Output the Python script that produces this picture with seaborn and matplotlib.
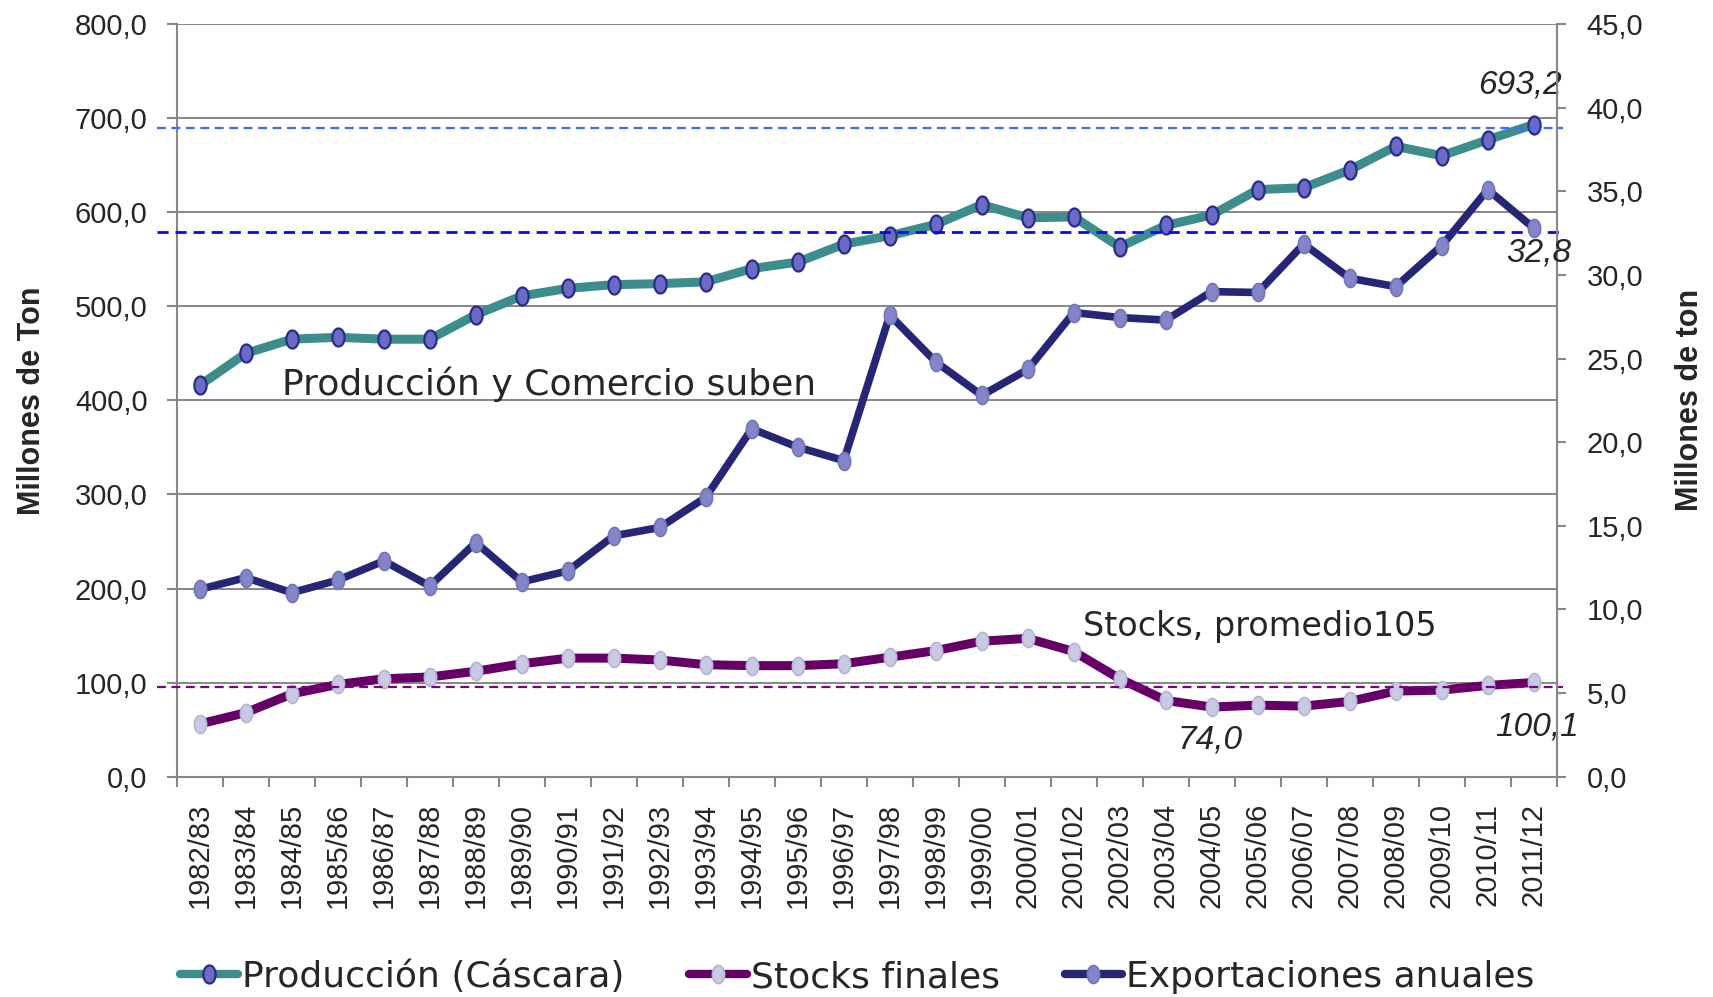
import numpy as np
import matplotlib
matplotlib.use("Agg")
import matplotlib.pyplot as plt
import matplotlib.transforms as mtransforms
from matplotlib.lines import Line2D
from matplotlib.ticker import FuncFormatter, FixedLocator
import seaborn as sns

# campañas arroceras
campanas = ['1982/83', '1983/84', '1984/85', '1985/86', '1986/87', '1987/88',
            '1988/89', '1989/90', '1990/91', '1991/92', '1992/93', '1993/94',
            '1994/95', '1995/96', '1996/97', '1997/98', '1998/99', '1999/00',
            '2000/01', '2001/02', '2002/03', '2003/04', '2004/05', '2005/06',
            '2006/07', '2007/08', '2008/09', '2009/10', '2010/11', '2011/12']

# millones de ton (eje izquierdo)
produccion = [416, 450, 465, 467, 465, 465, 491, 511, 519, 523, 524, 526,
              540, 547, 566, 575, 587, 608, 594, 595, 563, 586, 597, 624,
              626, 645, 670, 660, 677, 693.2]
stocks = [56, 68, 88, 98, 104, 106, 112, 120, 126, 126, 124, 119,
          118, 118, 120, 127, 134, 144, 147, 133, 104, 81, 74.0, 76,
          75, 80, 91, 92, 97, 100.1]

# millones de ton (eje derecho)
exportaciones = [11.2, 11.9, 11.0, 11.75, 12.9, 11.4, 14.0, 11.65, 12.3, 14.4,
                 14.9, 16.7, 20.8, 19.7, 18.9, 27.6, 24.8, 22.8, 24.35, 27.75,
                 27.45, 27.3, 29.0, 28.95, 31.85, 29.8, 29.3, 31.75, 35.1, 32.8]

# lineas de referencia (eje izquierdo)
ref_prod = 690.0
ref_expo = 578.5
ref_stock = 95.5

sns.set_style("white")
plt.rcParams['font.family'] = ['Liberation Sans', 'DejaVu Sans']

idx = np.arange(len(campanas))
coma = FuncFormatter(lambda v, p: f"{v:.1f}".replace('.', ','))

# marcador elíptico tipo Excel
t = np.linspace(0, 2 * np.pi, 40)
elipse = np.column_stack([0.68 * np.cos(t), np.sin(t)])

fig = plt.figure(figsize=(17.13, 9.97), dpi=100)
ax = fig.add_axes([0.1032, 0.2210, 0.8056, 0.7549])
ax2 = ax.twinx()

gris = '#868686'

sns.lineplot(x=idx, y=produccion, ax=ax, color='#3d8d8d', lw=6.5,
             marker=elipse, markersize=13, markerfacecolor='#6b6bc4',
             markeredgecolor='#2b2b8c', markeredgewidth=1.6,
             solid_joinstyle='round', solid_capstyle='round', zorder=4)
sns.lineplot(x=idx, y=stocks, ax=ax, color='#660066', lw=6.5,
             marker=elipse, markersize=13, markerfacecolor='#c9c9e3',
             markeredgecolor='#b4b4d4', markeredgewidth=1.2,
             solid_joinstyle='round', solid_capstyle='round', zorder=4)
sns.lineplot(x=idx, y=exportaciones, ax=ax2, color='#262676', lw=5.5,
             marker=elipse, markersize=13, markerfacecolor='#8484c8',
             markeredgecolor='#7474b8', markeredgewidth=1.2,
             solid_joinstyle='round', solid_capstyle='round', zorder=4)

# lineas punteadas de referencia
trans = mtransforms.blended_transform_factory(ax.transAxes, ax.transData)
for val, col, lw in [(ref_prod, '#3d6bff', 1.6), (ref_expo, '#0a0ae6', 2.0),
                     (ref_stock, '#800080', 1.6)]:
    ax.plot([-0.0143, 1.0046], [val, val], transform=trans, color=col, lw=lw,
            ls=(0, (4, 2.5)), clip_on=False, zorder=5)

# ejes
ax.set_xlim(-0.5, len(campanas) - 0.5)
ax.set_ylim(0, 800)
ax2.set_ylim(0, 45)
ax.set_yticks(np.arange(0, 801, 100))
ax2.set_yticks(np.arange(0, 46, 5))
ax.yaxis.set_major_formatter(coma)
ax2.yaxis.set_major_formatter(coma)

ax.set_xticks(idx)
ax.set_xticklabels(campanas, rotation=90)
ax.xaxis.set_minor_locator(FixedLocator(np.arange(len(campanas) + 1) - 0.5))
ax.tick_params(axis='x', which='major', length=0, pad=19, labelsize=21)
ax.tick_params(axis='x', which='minor', length=7, width=1.5, color=gris,
               direction='out', bottom=True)
ax.tick_params(axis='y', length=7, width=1.5, color=gris, direction='out',
               pad=14, labelsize=21, left=True)
ax2.tick_params(axis='y', length=6.5, width=1.5, color=gris, direction='out',
                pad=15, labelsize=21, right=True)

ax.yaxis.grid(True, color=gris, lw=1.4)
ax.xaxis.grid(False)
ax.set_axisbelow(True)
for s in ['left', 'bottom']:
    ax.spines[s].set_color(gris)
    ax.spines[s].set_linewidth(1.5)
ax.spines['top'].set_visible(False)
ax.spines['right'].set_visible(False)
for s in ['left', 'bottom', 'top']:
    ax2.spines[s].set_visible(False)
ax2.spines['right'].set_color(gris)
ax2.spines['right'].set_linewidth(1.5)
ax2.grid(False)

ax.set_ylabel('Millones de Ton', fontsize=22, fontweight='bold', va='center')
ax.yaxis.set_label_coords(-0.105, 0.5)
ax2.set_ylabel('Millones de ton', fontsize=22, fontweight='bold', rotation=90,
               va='center')
ax2.yaxis.set_label_coords(1.0966, 0.5)

# textos
ax.text(1.79, 406, 'Producción y Comercio suben', fontsize=26,
        family=['DejaVu Sans'], va='baseline', ha='left', zorder=6)
ax.text(19.2, 149, 'Stocks, promedio105', fontsize=24,
        family=['DejaVu Sans'], va='baseline', ha='left', zorder=6)

etiq = dict(fontsize=24, style='italic', ha='center', va='center', zorder=6)
ax.text(28.7, 735, '693,2', **etiq)
ax2.text(29.1, 31.3, '32,8', **etiq)
ax.text(21.96, 39, '74,0', **etiq)
ax.text(29.07, 53, '100,1', **etiq)

# leyenda
handles = [
    Line2D([], [], color='#3d8d8d', lw=6, marker=elipse, markersize=13,
           markerfacecolor='#6b6bc4', markeredgecolor='#2b2b8c',
           markeredgewidth=1.6),
    Line2D([], [], color='#660066', lw=6, marker=elipse, markersize=13,
           markerfacecolor='#c9c9e3', markeredgecolor='#b4b4d4',
           markeredgewidth=1.2),
    Line2D([], [], color='#262676', lw=6, marker=elipse, markersize=13,
           markerfacecolor='#8484c8', markeredgecolor='#7474b8',
           markeredgewidth=1.2),
]
labels = ['Producción (Cáscara)', 'Stocks finales', 'Exportaciones anuales']
leg = fig.legend(handles, labels, loc='center', bbox_to_anchor=(0.5005, 0.02),
                 ncol=3, frameon=False, handlelength=1.6, handletextpad=0.1,
                 columnspacing=1.8, prop={'family': 'DejaVu Sans', 'size': 26})

fig.savefig('out.png', dpi=100)
